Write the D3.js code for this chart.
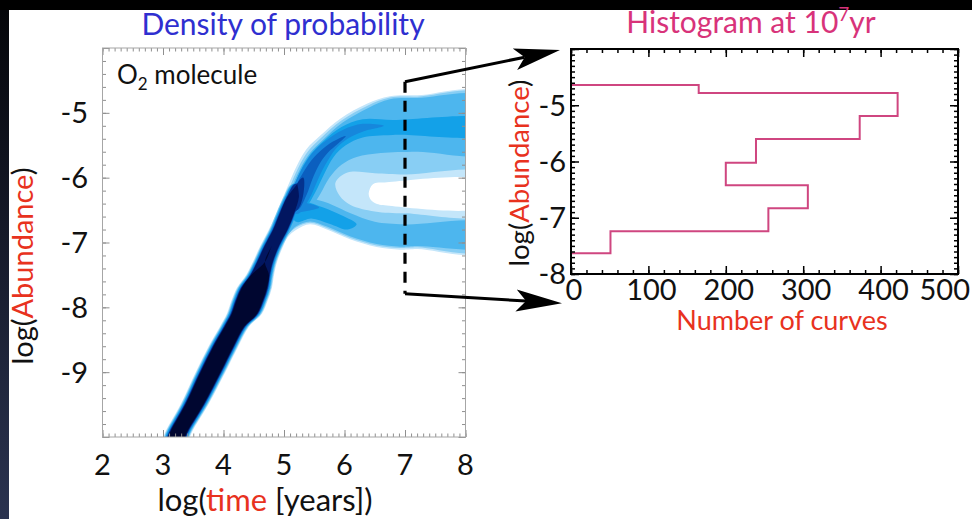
<!DOCTYPE html>
<html>
<head>
<meta charset="utf-8">
<script src="https://cdn.jsdelivr.net/npm/d3@7"></script>
<style>
  html, body { margin: 0; padding: 0; background: #000; }
  svg { display: block; }
  text { font-family: Lato, "DejaVu Sans", sans-serif; }
</style>
</head>
<body>
<svg id="fig" width="972" height="519"></svg>
<script>
// ------------------------------------------------------------------
// Axis ticks
// ------------------------------------------------------------------
const timeTicks = [2, 3, 4, 5, 6, 7, 8];
const abundanceTicks = [-5, -6, -7, -8, -9];
const countTicks = [0, 100, 200, 300, 400, 500];
const histAbundanceTicks = [-5, -6, -7, -8];

// ------------------------------------------------------------------
// Histogram of log(abundance) at t = 10^7 yr (number of model curves)
// bin edges from top to bottom, one count per bin
// ------------------------------------------------------------------
const histBinEdges = [-4.64, -4.78, -5.19, -5.60, -6.02, -6.42, -6.83, -7.24, -7.63, -8.0];
const histCounts   = [165, 422, 373, 239, 200, 306, 255, 51, 0];

// ------------------------------------------------------------------
// Probability density of log(abundance) vs log(time), as filled
// contour levels. Points are [log t, log X].
// ------------------------------------------------------------------
const levelColors = ["#c4e6fa", "#88cef4", "#4db6ee", "#13a1e8", "#1687dc",
                     "#0b5fbf", "#04338f", "#021660", "#000630"];

// outer envelope of all curves (lowest level)
const envelope = [
  [2.95, -10.3], [3.005, -10.0], [3.29, -9.5], [3.54, -9.0], [3.755, -8.6],
  [3.94, -8.3], [4.055, -8.1], [4.13, -7.9], [4.22, -7.7], [4.375, -7.5],
  [4.485, -7.3], [4.61, -7.05], [4.75, -6.8], [4.88, -6.54], [5.04, -6.18],
  [5.21, -5.82], [5.37, -5.56], [5.60, -5.35], [5.93, -5.09], [6.37, -4.86],
  [6.75, -4.745], [7.20, -4.73], [8.40, -4.73], [8.40, -7.10], [7.20, -7.10],
  [6.92, -7.11], [6.53, -7.07], [6.09, -6.95], [5.71, -6.80], [5.43, -6.72],
  [5.21, -6.80], [5.06, -6.92], [4.99, -7.05], [4.885, -7.3], [4.835, -7.5],
  [4.80, -7.7], [4.73, -7.9], [4.635, -8.1], [4.42, -8.3], [4.245, -8.6],
  [4.03, -9.0], [3.75, -9.5], [3.445, -10.0], [3.39, -10.3]
];

// narrow rising ridge (t < 10^5.3 yr): centre, half width and top level
const ridgeA   = [-10.3, -10.0, -9.5, -9.0, -8.6, -8.3, -8.1, -7.9, -7.7, -7.5, -7.3, -7.05, -6.8, -6.55, -6.3, -6.1];
const ridgeT   = [3.17, 3.225, 3.52, 3.785, 4.0, 4.18, 4.345, 4.43, 4.51, 4.605, 4.685, 4.80, 4.94, 5.05, 5.15, 5.22];
const ridgeHw  = [0.22, 0.22, 0.23, 0.245, 0.245, 0.24, 0.29, 0.30, 0.29, 0.23, 0.20, 0.19, 0.19, 0.19, 0.17, 0.11];
const ridgeTop = [8, 8, 8, 8, 8, 8, 8, 8, 8, 8, 7, 7, 7, 7, 7, 6];
const ridgeInset = [0, 0.012, 0.024, 0.036, 0.048, 0.058, 0.066, 0.074, 0.084];

// branches after the knee, per level
const branchLevels = {
  1: [
    [[4.92, -6.56], [5.07, -6.2], [5.24, -5.84], [5.4, -5.59], [5.62, -5.38], [5.95, -5.12],
     [6.38, -4.89], [6.75, -4.765], [7.2, -4.75], [8.4, -4.75], [8.4, -7.075], [7.2, -7.075],
     [6.92, -7.085], [6.53, -7.045], [6.09, -6.925], [5.71, -6.775], [5.43, -6.695],
     [5.2, -6.77], [5.03, -6.92], [4.95, -7.05]]
  ],
  2: [
    [[4.96, -6.58], [5.1, -6.22], [5.27, -5.86], [5.43, -5.62], [5.65, -5.41], [5.97, -5.15],
     [6.4, -4.92], [6.75, -4.79], [7.2, -4.77], [8.4, -4.77], [8.4, -5.6], [7.2, -5.6],
     [6.6, -5.62], [6.2, -5.68], [5.95, -5.8], [5.75, -6.0], [5.6, -6.25], [5.45, -6.45],
     [5.25, -6.6], [5.05, -6.8]],
    [[5.0, -6.45], [5.2, -6.3], [5.5, -6.33], [5.8, -6.42], [6.1, -6.55], [6.5, -6.68],
     [7.0, -6.72], [8.4, -6.72], [8.4, -7.055], [7.2, -7.055], [6.92, -7.065], [6.53, -7.025],
     [6.09, -6.905], [5.71, -6.755], [5.43, -6.675], [5.2, -6.75], [5.02, -6.9]]
  ],
  3: [
    [[5.0, -6.5], [5.12, -6.24], [5.28, -5.88], [5.44, -5.64], [5.66, -5.43], [5.95, -5.22],
     [6.3, -5.1], [6.8, -5.11], [8.4, -5.11], [8.4, -5.33], [6.8, -5.34], [6.3, -5.38],
     [6.02, -5.5], [5.82, -5.68], [5.66, -5.95], [5.52, -6.22], [5.36, -6.46], [5.15, -6.62]],
    [[5.05, -6.36], [5.35, -6.37], [5.65, -6.46], [5.95, -6.58], [6.2, -6.72], [6.05, -6.8],
     [5.75, -6.71], [5.45, -6.63], [5.2, -6.68]]
  ],
  4: [
    [[5.03, -6.45], [5.15, -6.15], [5.3, -5.86], [5.47, -5.62], [5.69, -5.43], [5.98, -5.26],
     [6.3, -5.17], [6.65, -5.2], [6.3, -5.29], [6.05, -5.4], [5.86, -5.55], [5.69, -5.79],
     [5.55, -6.05], [5.42, -6.32], [5.22, -6.56]],
    [[5.1, -6.37], [5.4, -6.4], [5.58, -6.46], [5.4, -6.51], [5.15, -6.52]]
  ],
  5: [
    [[5.08, -6.42], [5.19, -6.14], [5.33, -5.9], [5.5, -5.68], [5.7, -5.51], [5.9, -5.4],
     [6.02, -5.36], [5.9, -5.47], [5.72, -5.62], [5.58, -5.8], [5.47, -6.02], [5.37, -6.27],
     [5.22, -6.5]]
  ],
  6: [
    [[5.05, -6.55], [5.13, -6.3], [5.24, -6.06], [5.32, -6.0], [5.32, -6.25], [5.22, -6.5]]
  ]
};

// low-density pocket and empty gap between the two branches at late times
const lowPocket = [[5.85, -6.08], [6.05, -5.92], [6.5, -5.93], [7.0, -5.95], [8.4, -5.95],
                   [8.4, -6.55], [7.0, -6.55], [6.5, -6.52], [6.1, -6.42], [5.92, -6.28]];
const emptyGap  = [[6.4, -6.24], [6.47, -6.1], [6.7, -6.07], [8.4, -6.07], [8.4, -6.43],
                   [6.7, -6.43], [6.5, -6.39], [6.42, -6.32]];

// ------------------------------------------------------------------
const svg = d3.select("#fig");
const W = 972, H = 519;

// slide background
const defs = svg.append("defs");
const grad = defs.append("linearGradient").attr("id", "edge").attr("x1", 0).attr("y1", 0).attr("x2", 0).attr("y2", 1);
grad.append("stop").attr("offset", "0%").attr("stop-color", "#05060a");
grad.append("stop").attr("offset", "100%").attr("stop-color", "#2b3350");
svg.append("rect").attr("width", W).attr("height", H).attr("fill", "#000");
svg.append("rect").attr("x", 0).attr("y", 10).attr("width", 9).attr("height", H - 10).attr("fill", "url(#edge)");
svg.append("rect").attr("x", 9).attr("y", 10).attr("width", W - 9).attr("height", H - 10).attr("fill", "#fff");

// ------------------------------------------------------------------
// Left panel: density of probability
// ------------------------------------------------------------------
const xT = d3.scaleLinear().domain([2, 8]).range([102.5, 465.5]);
const yA = d3.scaleLinear().domain([-10, -4]).range([437, 48]);

defs.append("clipPath").attr("id", "plotClip")
  .append("rect").attr("x", xT(2)).attr("y", yA(-4))
  .attr("width", xT(8) - xT(2)).attr("height", yA(-10) - yA(-4));

const dens = svg.append("g").attr("clip-path", "url(#plotClip)");
const outline = d3.line().x(d => xT(d[0])).y(d => yA(d[1])).curve(d3.curveCatmullRomClosed.alpha(0.5));

function ridgeOutline(level) {
  const left = [], right = [];
  ridgeA.forEach((a, i) => {
    const w = level > ridgeTop[i] ? 0 : Math.max(0, ridgeHw[i] - ridgeInset[level]);
    left.push([ridgeT[i] - w, a]);
    right.push([ridgeT[i] + w, a]);
  });
  return left.concat(right.reverse());
}

dens.append("path").attr("d", outline(envelope)).attr("fill", levelColors[0]);
for (let k = 1; k < levelColors.length; k++) {
  dens.append("path").attr("d", outline(ridgeOutline(k))).attr("fill", levelColors[k]);
  (branchLevels[k] || []).forEach(poly => {
    dens.append("path").attr("d", outline(poly)).attr("fill", levelColors[k]);
  });
  if (k === 1) {
    dens.append("path").attr("d", outline(lowPocket)).attr("fill", levelColors[0]);
    dens.append("path").attr("d", outline(emptyGap)).attr("fill", "#fff");
  }
}

// frame and ticks
const gray = "#8f8f8f";
function axisStyle(g) {
  g.select(".domain").remove();
  g.selectAll(".tick line").attr("stroke", gray).attr("stroke-width", 1);
}
const minorT = d3.range(20, 81).map(v => v / 10);
const minorA = d3.range(-50, -19).map(v => v / 5);
[["bottom", yA(-10)], ["top", yA(-4)]].forEach(([side, y]) => {
  const mk = side === "bottom" ? d3.axisBottom : d3.axisTop;
  svg.append("g").attr("transform", `translate(0,${y})`)
    .call(mk(xT).tickValues(minorT).tickSize(-3.5).tickFormat("")).call(axisStyle);
  svg.append("g").attr("transform", `translate(0,${y})`)
    .call(mk(xT).tickValues(timeTicks).tickSize(-7).tickFormat("")).call(axisStyle);
});
[["left", xT(2)], ["right", xT(8)]].forEach(([side, x]) => {
  const mk = side === "left" ? d3.axisLeft : d3.axisRight;
  svg.append("g").attr("transform", `translate(${x},0)`)
    .call(mk(yA).tickValues(minorA).tickSize(-3.5).tickFormat("")).call(axisStyle);
  svg.append("g").attr("transform", `translate(${x},0)`)
    .call(mk(yA).tickValues(d3.range(-10, -3)).tickSize(-7).tickFormat("")).call(axisStyle);
});
svg.append("rect").attr("x", xT(2)).attr("y", yA(-4))
  .attr("width", xT(8) - xT(2)).attr("height", yA(-10) - yA(-4))
  .attr("fill", "none").attr("stroke", "#a6a6a6").attr("stroke-width", 1);

// tick labels
svg.append("g").selectAll("text").data(timeTicks).join("text")
  .attr("x", d => xT(d)).attr("y", 475).attr("text-anchor", "middle")
  .attr("font-size", 29).attr("fill", "#111").text(d => d);
svg.append("g").selectAll("text").data(abundanceTicks).join("text")
  .attr("x", 88).attr("y", d => yA(d)).attr("dy", "0.36em").attr("text-anchor", "end")
  .attr("font-size", 29).attr("fill", "#111").text(d => d);

// titles
svg.append("text").attr("x", 283).attr("y", 35).attr("text-anchor", "middle")
  .attr("font-size", 30).attr("fill", "#2f2fd0").text("Density of probability");
const o2 = svg.append("text").attr("x", 117).attr("y", 84).attr("font-size", 26).attr("fill", "#111");
o2.append("tspan").text("O");
o2.append("tspan").attr("font-size", 17).attr("dy", 6).text("2");
o2.append("tspan").attr("dy", -6).text(" molecule");

const xl = svg.append("text").attr("x", 265).attr("y", 511).attr("text-anchor", "middle")
  .attr("font-size", 31).attr("fill", "#111");
xl.append("tspan").text("log(");
xl.append("tspan").attr("fill", "#e8321e").text("time");
xl.append("tspan").text(" [years])");

const yl = svg.append("text").attr("transform", "translate(33,266) rotate(-90)")
  .attr("text-anchor", "middle").attr("font-size", 29).attr("fill", "#111");
yl.append("tspan").text("log(");
yl.append("tspan").attr("fill", "#e8321e").text("Abundance");
yl.append("tspan").text(")");

// ------------------------------------------------------------------
// Right panel: histogram at 10^7 yr
// ------------------------------------------------------------------
const xC = d3.scaleLinear().domain([0, 500]).range([571, 958]);
const yH = d3.scaleLinear().domain([-8, -4]).range([274, 49]);

const stepPts = [[0, histBinEdges[0]]];
histCounts.forEach((c, i) => {
  stepPts.push([c, histBinEdges[i]]);
  stepPts.push([c, histBinEdges[i + 1]]);
});
svg.append("path")
  .attr("d", d3.line().x(d => xC(d[0])).y(d => yH(d[1]))(stepPts))
  .attr("fill", "none").attr("stroke", "#cf4680").attr("stroke-width", 2);

function histAxisStyle(g) {
  g.select(".domain").remove();
  g.selectAll(".tick line").attr("stroke", "#000").attr("stroke-width", 1.5);
}
const minorC = d3.range(0, 501, 20);
const minorH = d3.range(-80, -39).map(v => v / 10);
[["bottom", yH(-8)], ["top", yH(-4)]].forEach(([side, y]) => {
  const mk = side === "bottom" ? d3.axisBottom : d3.axisTop;
  svg.append("g").attr("transform", `translate(0,${y})`)
    .call(mk(xC).tickValues(minorC).tickSize(-4).tickFormat("")).call(histAxisStyle);
  svg.append("g").attr("transform", `translate(0,${y})`)
    .call(mk(xC).tickValues(countTicks).tickSize(-8).tickFormat("")).call(histAxisStyle);
});
[["left", xC(0)], ["right", xC(500)]].forEach(([side, x]) => {
  const mk = side === "left" ? d3.axisLeft : d3.axisRight;
  svg.append("g").attr("transform", `translate(${x},0)`)
    .call(mk(yH).tickValues(minorH).tickSize(-4).tickFormat("")).call(histAxisStyle);
  svg.append("g").attr("transform", `translate(${x},0)`)
    .call(mk(yH).tickValues(d3.range(-8, -3)).tickSize(-8).tickFormat("")).call(histAxisStyle);
});
svg.append("rect").attr("x", xC(0)).attr("y", yH(-4))
  .attr("width", xC(500) - xC(0)).attr("height", yH(-8) - yH(-4))
  .attr("fill", "none").attr("stroke", "#000").attr("stroke-width", 2);

svg.append("g").selectAll("text").data(countTicks).join("text")
  .attr("x", d => d === 500 ? 970 : xC(d) + 3)
  .attr("text-anchor", d => d === 500 ? "end" : "middle")
  .attr("y", 300).attr("font-size", 29).attr("fill", "#111").text(d => d);
svg.append("g").selectAll("text").data(histAbundanceTicks).join("text")
  .attr("x", 566).attr("y", d => yH(d)).attr("dy", "0.36em").attr("text-anchor", "end")
  .attr("font-size", 29).attr("fill", "#111").text(d => d);

const ht = svg.append("text").attr("x", 751).attr("y", 33).attr("text-anchor", "middle")
  .attr("font-size", 30).attr("fill", "#d8337a");
ht.append("tspan").text("Histogram at 10");
ht.append("tspan").attr("font-size", 19).attr("dy", -12).text("7");
ht.append("tspan").attr("dy", 12).text("yr");

svg.append("text").attr("x", 782).attr("y", 330).attr("text-anchor", "middle")
  .attr("font-size", 27).attr("fill", "#e8321e").text("Number of curves");

const hyl = svg.append("text").attr("transform", "translate(529,173) rotate(-90)")
  .attr("text-anchor", "middle").attr("font-size", 27.5).attr("fill", "#111");
hyl.append("tspan").text("log(");
hyl.append("tspan").attr("fill", "#e8321e").text("Abundance");
hyl.append("tspan").text(")");

// ------------------------------------------------------------------
// Cut at t = 10^7 yr and arrows to the histogram
// ------------------------------------------------------------------
const cutTop = [xT(7), yA(-4.52)];
const cutBottom = [xT(7), yA(-7.79)];
svg.append("line").attr("x1", cutTop[0]).attr("y1", cutTop[1])
  .attr("x2", cutBottom[0]).attr("y2", cutBottom[1])
  .attr("stroke", "#000").attr("stroke-width", 3.2).attr("stroke-dasharray", "11,8");

function arrow(from, to) {
  const dx = to[0] - from[0], dy = to[1] - from[1];
  const len = Math.hypot(dx, dy), ux = dx / len, uy = dy / len, px = -uy, py = ux;
  const headLen = 46, headW = 11, notch = 36;
  const base = [to[0] - ux * notch, to[1] - uy * notch];
  svg.append("line").attr("x1", from[0]).attr("y1", from[1])
    .attr("x2", base[0]).attr("y2", base[1])
    .attr("stroke", "#000").attr("stroke-width", 3);
  const pts = [
    to,
    [to[0] - ux * headLen + px * headW, to[1] - uy * headLen + py * headW],
    base,
    [to[0] - ux * headLen - px * headW, to[1] - uy * headLen - py * headW]
  ];
  svg.append("path").attr("d", "M" + pts.map(p => p.join(",")).join("L") + "Z").attr("fill", "#000");
}
arrow(cutTop, [xC(0) - 11, yH(-4) + 1]);
arrow(cutBottom, [xC(0) - 9, yH(-8.52)]);
</script>
</body>
</html>
